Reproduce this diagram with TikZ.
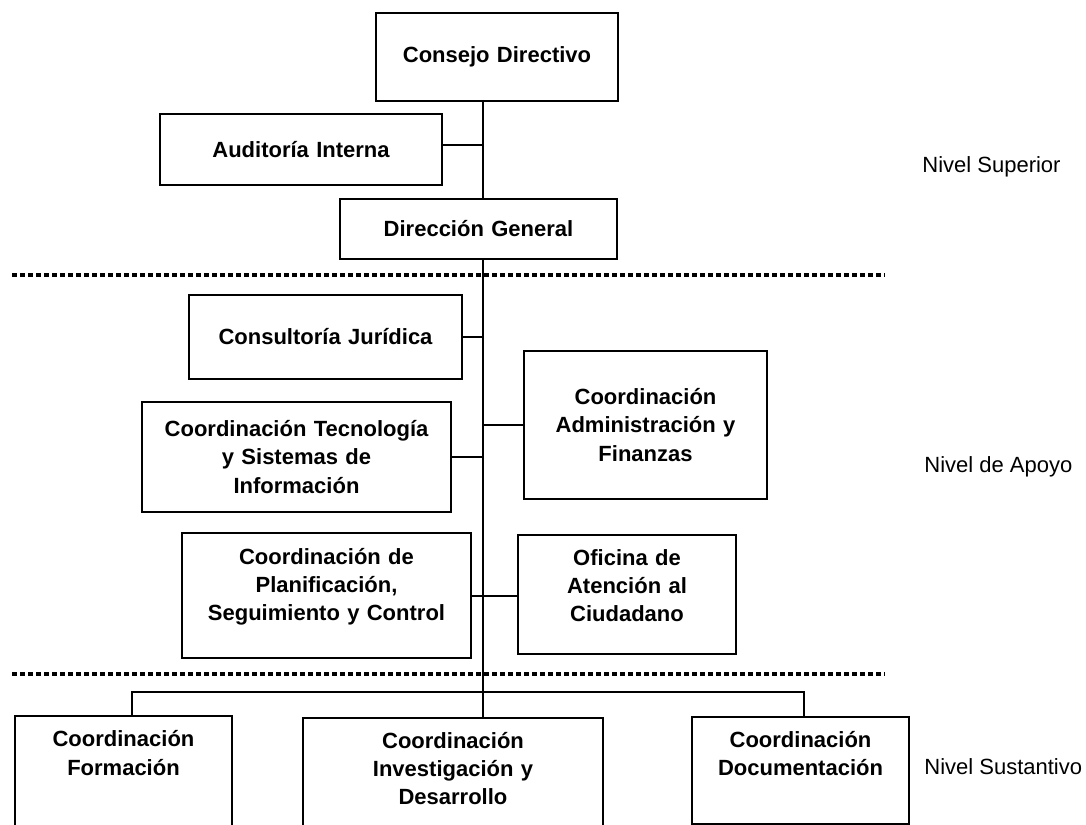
\documentclass[tikz,border=0pt]{standalone}
\usepackage{fontspec}
\setmainfont{Liberation Sans}
\usetikzlibrary{calc}
\newcommand{\boxfont}{\fontsize{11}{14.2}\selectfont\bfseries}
\newcommand{\nivelfont}{\fontsize{11}{13}\selectfont}
\tikzset{
  box/.style={draw, line width=1.1pt, font=\boxfont, align=center, inner xsep=0pt, inner ysep=0pt},
  toptext/.style={anchor=north, text height=#1},
  link/.style={line width=1.1pt},
  level/.style={line width=2pt, dash pattern=on 2.5pt off 1.5pt},
  nivel/.style={font=\nivelfont, anchor=west, inner sep=0pt}
}
\begin{document}
\begin{tikzpicture}[x=0.5pt,y=-0.5pt]
  \useasboundingbox (0,0) rectangle (1086,824);
  % nivel superior
  \node[box, text width=121pt, minimum height=44pt] (consejo) at (497,57) {Consejo Directivo};
  \node[box, text width=141pt, minimum height=35.5pt] (auditoria) at (301,149.5) {Auditoría Interna};
  \node[box, text width=138.5pt, minimum height=30pt] (direccion) at (478.5,229) {Dirección General};
  % nivel de apoyo
  \node[box, text width=136.5pt, minimum height=42pt] (consultoria) at (325.5,337) {Consultoría Jurídica};
  \node[box, text width=154.5pt, minimum height=55pt] (tecnologia) at (296.5,457)
    {Coordinación Tecnología\\y Sistemas de\\Información};
  \node[box, text width=121.5pt, minimum height=74pt] (administracion) at (645.5,425)
    {Coordinación\\Administración y\\Finanzas};
  \node[box, toptext=15.5pt, text depth=47pt, text width=144.5pt] (planificacion) at (326.5,532)
    {Coordinación de\\Planificación,\\Seguimiento y Control};
  \node[box, toptext=15pt, text depth=44.5pt, text width=109pt] (oficina) at (627,534)
    {Oficina de\\Atención al\\Ciudadano};
  % nivel sustantivo
  \node[box, toptext=15.3pt, text depth=42pt, text width=108.5pt] (formacion) at (123.5,715)
    {Coordinación\\Formación};
  \node[box, toptext=15pt, text depth=41.5pt, text width=150pt] (investigacion) at (453,717)
    {Coordinación\\Investigación y\\Desarrollo};
  \node[box, toptext=15pt, text depth=38.5pt, text width=108.5pt] (documentacion) at (800.5,716)
    {Coordinación\\Documentación};

  % separadores de nivel
  \draw[level] (12,275) -- (885,275);
  \draw[level] (12,674) -- (885,674);

  % lineas de mando
  \coordinate (spine) at (483,0);
  \coordinate (busL) at (132,692);
  \coordinate (busR) at (804,692);
  \draw[link] (consejo.south -| spine) -- (direccion.north -| spine);
  \draw[link] (direccion.south -| spine) -- (investigacion.north -| spine);
  \draw[link] ([yshift=2.25pt]auditoria.east) -- ([yshift=2.25pt]auditoria.east -| spine);
  \draw[link] (consultoria.east) -- (consultoria.east -| spine);
  \draw[link] (tecnologia.east) -- (tecnologia.east -| spine);
  \draw[link] (administracion.west) -- (administracion.west -| spine);
  \draw[link] (planificacion.east) -- (planificacion.east -| oficina.west);
  \draw[link] (formacion.north -| busL) -- (busL) -- (busR) -- (documentacion.north -| busR);

  % etiquetas
  \node[nivel] (superior) at (922,167) {Nivel Superior};
  \node[nivel] (apoyo) at (924,467) {Nivel de Apoyo};
  \node[nivel] (sustantivo) at (924,767) {Nivel Sustantivo};
\end{tikzpicture}
\end{document}
